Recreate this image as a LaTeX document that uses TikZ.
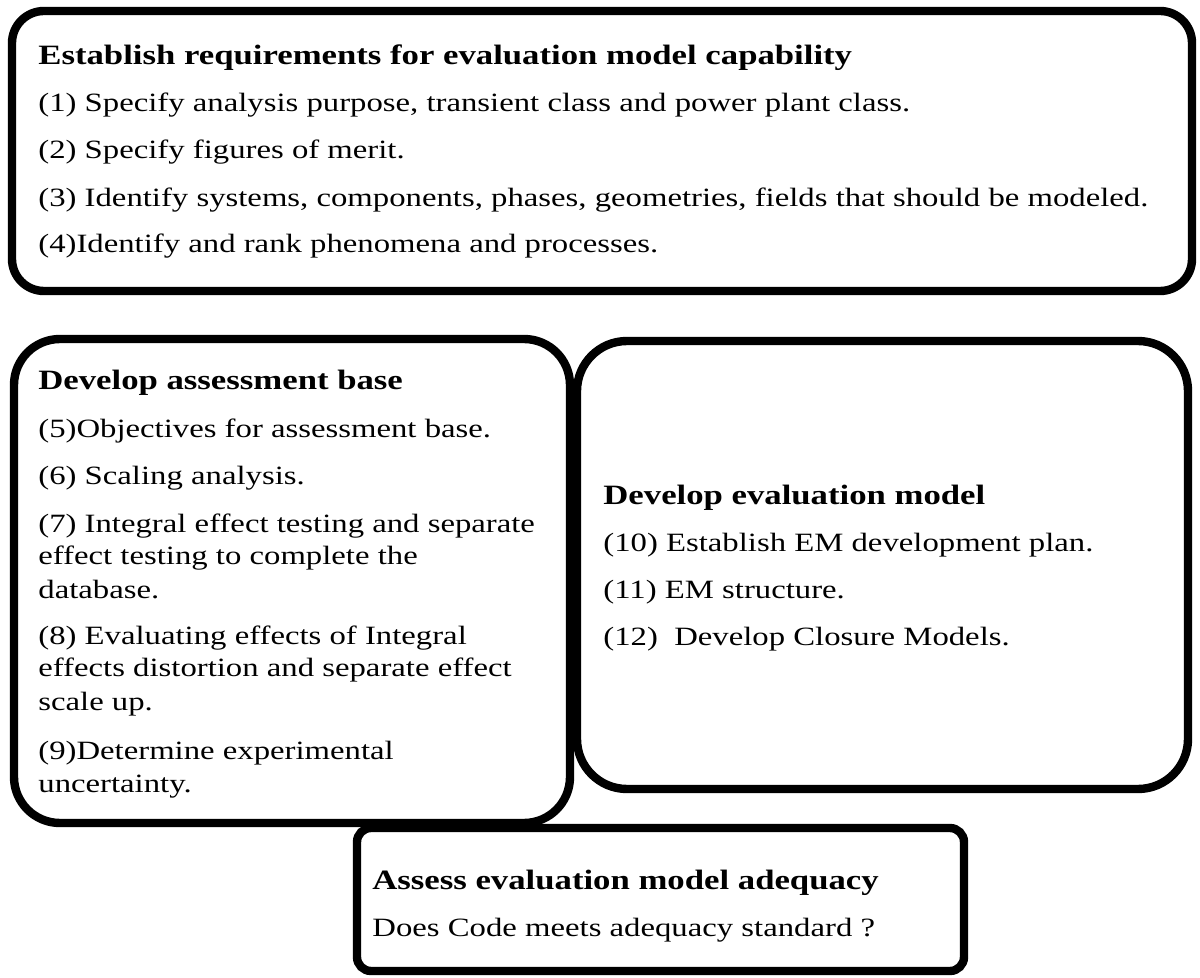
\documentclass[tikz,border=0pt]{standalone}
\usepackage{fontspec}
\setmainfont{Liberation Serif}[FakeStretch=1.24]
\usetikzlibrary{shadows}

\tikzset{
  stagebox/.style={draw=black, line width=4.2pt, fill=white,
    drop shadow={shadow xshift=1.2pt, shadow yshift=-1.2pt, opacity=0.3}},
  headtext/.style={anchor=base west, inner sep=0pt, font=\fontsize{14}{18}\selectfont\bfseries},
  itemtext/.style={anchor=base west, inner sep=0pt, align=left, font=\fontsize{13.2}{16.5}\selectfont},
}

\begin{document}
\begin{tikzpicture}[x=0.5pt, y=-0.5pt]
      \useasboundingbox (0,0) rectangle (1200,978);

      % boxes
      \draw[stagebox, rounded corners=16pt] (12,11) rectangle (1192,291);
      \draw[stagebox, rounded corners=23pt] (14,339) rectangle (570,823);
      \draw[stagebox, rounded corners=25pt] (577,341) rectangle (1188,789);
      \draw[stagebox, rounded corners=7pt] (357,828) rectangle (964,971);

      % requirements
      \node[headtext] (reqhead) at (38,65) {Establish requirements for evaluation model capability};
      \node[itemtext] (req1) at (38,112) {(1) Specify analysis purpose, transient class and power plant class.};
      \node[itemtext] (req2) at (38,159) {(2) Specify figures of merit.};
      \node[itemtext] (req3) at (38,207) {(3) Identify systems, components, phases, geometries, fields that should be modeled.};
      \node[itemtext] (req4) at (38,253) {(4)Identify and rank phenomena and processes.};

      % assessment base (multi-line nodes sit on their last line)
      \node[headtext] (basehead) at (38,390) {Develop assessment base};
      \node[itemtext] (base5) at (38,438) {(5)Objectives for assessment base.};
      \node[itemtext] (base6) at (38,485) {(6) Scaling analysis.};
      \node[itemtext] (base7) at (38,598) {(7) Integral effect testing and separate\\effect testing to complete the\\database.};
      \node[itemtext] (base8) at (38,710) {(8) Evaluating effects of Integral\\effects distortion and separate effect\\scale up.};
      \node[itemtext] (base9) at (38,792) {(9)Determine experimental\\uncertainty.};

      % evaluation model
      \node[headtext] (modelhead) at (603,505) {Develop evaluation model};
      \node[itemtext] (model10) at (603,552) {(10) Establish EM development plan.};
      \node[itemtext] (model11) at (603,598) {(11) EM structure.};
      \node[itemtext] (model12) at (603,645) {(12)\ \ Develop Closure Models.};

      % adequacy
      \node[headtext] (adqhead) at (372,889) {Assess evaluation model adequacy};
      \node[itemtext] (adq) at (372,936) {Does Code meets adequacy standard ?};
\end{tikzpicture}
\end{document}
